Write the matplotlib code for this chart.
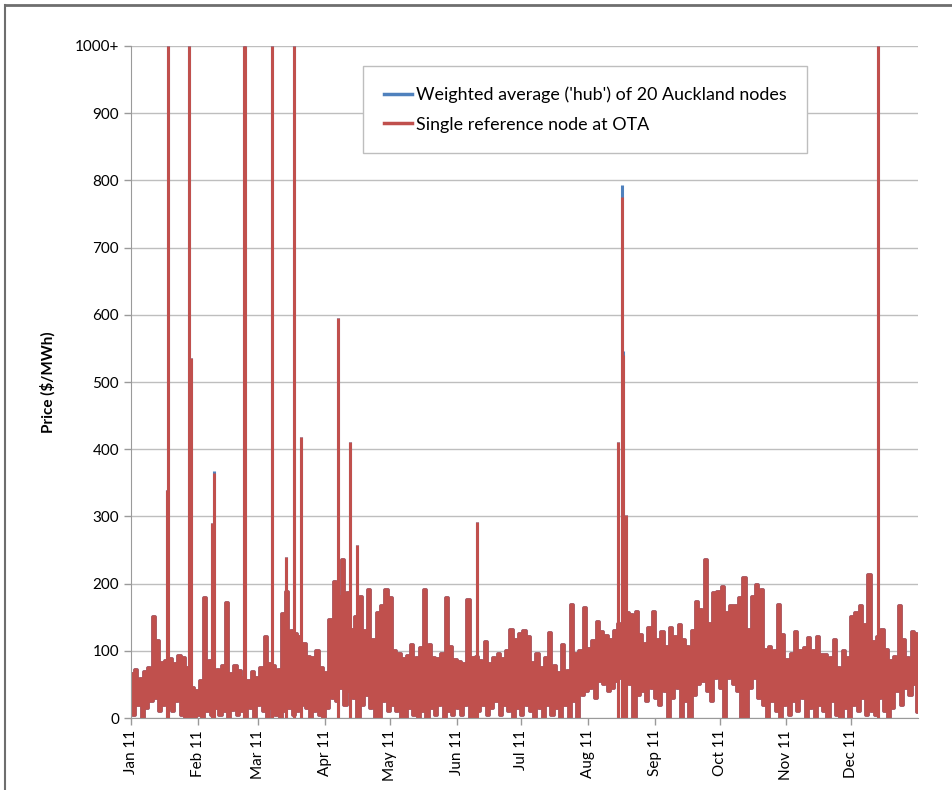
import matplotlib
matplotlib.use("Agg")
import matplotlib.pyplot as plt
from matplotlib.lines import Line2D
import numpy as np

# month starts (day of year, 2011) and labels
month_days = [0, 31, 59, 90, 120, 151, 181, 212, 243, 273, 304, 334]
month_labels = ["Jan 11", "Feb 11", "Mar 11", "Apr 11", "May 11", "Jun 11",
                "Jul 11", "Aug 11", "Sep 11", "Oct 11", "Nov 11", "Dec 11"]

# band of the OTA price, read per 2-day block: block high and block low ($/MWh)
ota_peak = [65, 72, 58, 68, 75, 150, 115, 82, 85, 88, 80, 92, 90, 75, 45, 40,
            55, 178, 85, 60, 72, 78, 171, 65, 78, 70, 60, 55, 69, 60, 75, 120,
            80, 78, 72, 155, 187, 130, 125, 121, 110, 91, 90, 100, 75, 67, 146, 203,
            180, 235, 186, 131, 150, 180, 130, 190, 116, 156, 166, 190, 178, 100, 95, 88,
            92, 109, 90, 104, 190, 109, 90, 88, 95, 178, 106, 86, 84, 80, 176, 90,
            91, 85, 113, 80, 90, 95, 88, 100, 131, 116, 125, 130, 121, 82, 96, 75,
            90, 126, 78, 67, 109, 70, 168, 96, 100, 163, 102, 115, 143, 128, 122, 116,
            130, 140, 150, 156, 153, 158, 124, 110, 134, 158, 116, 128, 105, 134, 120, 138,
            116, 105, 130, 173, 161, 235, 140, 186, 188, 195, 156, 166, 166, 178, 208, 131,
            180, 198, 190, 101, 105, 100, 168, 124, 86, 96, 128, 100, 104, 119, 100, 121,
            94, 94, 90, 116, 74, 100, 90, 151, 156, 166, 138, 213, 113, 120, 131, 101,
            85, 91, 166, 116, 90, 128, 125]
ota_trough = [5, 20, 0, 15, 25, 30, 10, 20, 15, 10, 25, 5, 0, 0, 0, 5,
              0, 10, 5, 15, 5, 10, 0, 12, 5, 10, 0, 15, 0, 20, 10, 0,
              15, 5, 0, 10, 15, 5, 10, 20, 15, 0, 10, 5, 0, 15, 30, 25,
              45, 20, 40, 30, 0, 20, 35, 15, 0, 0, 25, 10, 20, 10, 0, 0,
              15, 5, 0, 10, 0, 15, 5, 20, 0, 10, 5, 15, 5, 20, 0, 0,
              10, 20, 5, 15, 25, 5, 20, 10, 0, 15, 5, 20, 10, 0, 15, 0,
              20, 5, 15, 0, 20, 0, 25, 0, 35, 40, 45, 30, 55, 50, 40, 45,
              55, 60, 70, 50, 0, 35, 40, 25, 45, 30, 20, 40, 0, 30, 45, 0,
              25, 0, 35, 50, 55, 40, 25, 60, 45, 0, 60, 50, 40, 0, 0, 45,
              60, 30, 20, 0, 25, 10, 0, 20, 5, 25, 10, 30, 0, 15, 0, 20,
              10, 0, 25, 5, 0, 15, 0, 20, 10, 30, 5, 10, 5, 30, 10, 0,
              15, 40, 20, 45, 35, 50, 9]

# isolated price spikes (day of year, $/MWh); 1000 means off the scale (1000+)
spike_day = [16.5, 17.0, 27.0, 27.6, 37.6, 38.5, 52.2, 52.7, 65.4, 71.8, 75.6,
             78.7, 96.2, 101.6, 105.0, 160.4, 226.0, 227.7, 228.4, 229.5, 346.5]
spike_ota = [340, 1000, 1000, 535, 290, 365, 1000, 1000, 1000, 240, 1000,
             418, 595, 410, 258, 292, 410, 775, 540, 302, 1000]
spike_hub = [340, 1000, 1000, 535, 290, 368, 1000, 1000, 1000, 240, 1000,
             418, 595, 410, 258, 292, 410, 793, 546, 302, 1000]

y_ticks = [0, 100, 200, 300, 400, 500, 600, 700, 800, 900, 1000]
y_labels = ["0", "100", "200", "300", "400", "500", "600", "700", "800", "900", "1000+"]

red = "#C0504D"
blue = "#4F81BD"
plt.rcParams["font.family"] = ["Lato", "DejaVu Sans"]

# interleave block highs and lows into one series
n = len(ota_peak)
x = np.empty(2 * n)
x[0::2] = np.arange(n) * 2 + 0.5
x[1::2] = np.arange(n) * 2 + 1.5
x = np.minimum(x, 364.8)
ota = np.empty(2 * n)
ota[0::2] = ota_peak
ota[1::2] = ota_trough

fig = plt.figure(figsize=(9.52, 7.9), dpi=100)
ax = fig.add_axes([0.1376, 0.0911, 0.8267, 0.8507])

ax.plot(x, ota, drawstyle="steps-mid", color=blue, lw=2.6)
ax.vlines(spike_day, 0, spike_hub, colors=blue, lw=2.2)
ax.plot(x, ota, drawstyle="steps-mid", color=red, lw=2.6)
ax.vlines(spike_day, 0, spike_ota, colors=red, lw=2.2)

ax.set_xlim(0, 365)
ax.set_ylim(0, 1000)
ax.set_yticks(y_ticks)
ax.set_yticklabels(y_labels, fontsize=11)
ax.set_xticks(month_days)
ax.set_xticklabels(month_labels, rotation=90, fontsize=11)
ax.grid(True, axis="y", color="#BEBEBE", lw=1.0)
ax.set_axisbelow(True)
for s in ["top", "right"]:
    ax.spines[s].set_visible(False)
for s in ["left", "bottom"]:
    ax.spines[s].set_color("#9A9A9A")
ax.tick_params(axis="both", color="#9A9A9A", length=5, width=1)
ax.set_ylabel("Price ($/MWh)", fontsize=11, fontweight="bold", labelpad=14)

handles = [Line2D([], [], color=blue, lw=2.5),
           Line2D([], [], color=red, lw=2.5)]
leg = ax.legend(handles, ["Weighted average ('hub') of 20 Auckland nodes",
                          "Single reference node at OTA"],
                loc="upper left", bbox_to_anchor=(0.2948, 0.970), fontsize=12.9,
                fancybox=False, framealpha=1, edgecolor="#BEBEBE",
                handlelength=1.6, handletextpad=0.2, borderpad=1.15,
                labelspacing=0.75, borderaxespad=0)
leg.get_frame().set_linewidth(1.0)

# outer frame of the picture
fig.add_artist(Line2D([0.005, 1.0], [0.994, 0.994], color="#6E6E6E", lw=2))
fig.add_artist(Line2D([0.005, 0.005], [0.0, 0.994], color="#6E6E6E", lw=1.5))

fig.savefig("out.png", dpi=100)
